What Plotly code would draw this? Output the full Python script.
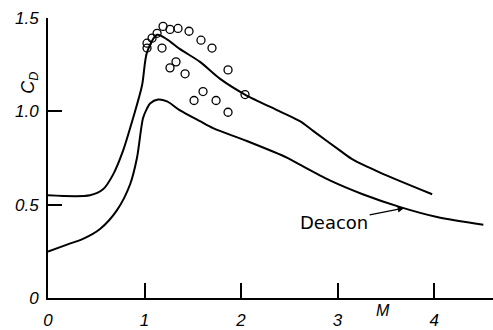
import plotly.graph_objects as go

# Upper curve (experimental fit)
upper_m = [0.0, 0.435, 0.57, 0.674, 0.777, 0.881, 0.974, 1.026, 1.13, 1.233, 1.368, 1.575, 1.78, 2.04, 2.40, 2.61, 2.75, 3.03, 3.16, 3.44, 3.98]
upper_cd = [0.55, 0.55, 0.582, 0.661, 0.788, 0.963, 1.138, 1.317, 1.41, 1.386, 1.333, 1.265, 1.175, 1.09, 1.0, 0.947, 0.894, 0.788, 0.741, 0.672, 0.556]

# Lower curve (Deacon)
deacon_m = [0.0, 0.197, 0.363, 0.539, 0.715, 0.850, 0.922, 0.984, 1.026, 1.057, 1.14, 1.233, 1.368, 1.575, 1.71, 2.06, 2.48, 2.61, 2.92, 3.26, 3.65, 4.03, 4.51]
deacon_cd = [0.249, 0.286, 0.317, 0.370, 0.471, 0.608, 0.751, 0.963, 1.016, 1.042, 1.063, 1.053, 1.005, 0.947, 0.910, 0.841, 0.751, 0.714, 0.630, 0.556, 0.487, 0.434, 0.392]

# Data points (open circles)
pts_m = [1.026, 1.026, 1.078, 1.130, 1.192, 1.264, 1.347, 1.461, 1.585, 1.699, 1.181, 1.326, 1.264, 1.420, 1.865, 2.041, 1.606, 1.513, 1.741, 1.865]
pts_cd = [1.339, 1.365, 1.392, 1.418, 1.455, 1.439, 1.444, 1.429, 1.381, 1.339, 1.339, 1.265, 1.233, 1.201, 1.222, 1.090, 1.106, 1.058, 1.058, 0.995]

x_ticks = [0, 1, 2, 3, 4]
x_labels = ["0", "1", "2", "3", "4"]
y_ticks = [0, 0.5, 1.0, 1.5]
y_labels = ["0", "0.5", "1.0", "1.5"]

fig = go.Figure()
fig.add_trace(go.Scatter(x=upper_m, y=upper_cd, mode="lines", line=dict(color="black", width=2, shape="spline", smoothing=0.8), showlegend=False))
fig.add_trace(go.Scatter(x=deacon_m, y=deacon_cd, mode="lines", line=dict(color="black", width=2, shape="spline", smoothing=0.8), showlegend=False))
fig.add_trace(go.Scatter(x=pts_m, y=pts_cd, mode="markers", cliponaxis=False,
                         marker=dict(symbol="circle-open", size=8, color="black", line=dict(width=1.3)), showlegend=False))

tickfont = dict(family="Liberation Sans", size=17, color="black")

fig.update_layout(
    width=493, height=330,
    margin=dict(l=48, r=0, t=18, b=28),
    paper_bgcolor="white", plot_bgcolor="white",
    xaxis=dict(range=[0, 4.61], tickvals=x_ticks, ticktext=["<i>" + t + "</i>" for t in x_labels],
               ticks="inside", ticklen=15, tickwidth=1.5,
               tickcolor="black", showline=True, linecolor="black", linewidth=2, showgrid=False, zeroline=False,
               tickfont=tickfont, ticklabelstandoff=6),
    yaxis=dict(range=[0, 1.5], tickvals=y_ticks, ticktext=["<i>" + t + "</i>" for t in y_labels],
               ticks="inside", ticklen=14, tickwidth=1.5,
               tickcolor="black", showline=True, linecolor="black", linewidth=2, showgrid=False, zeroline=False,
               tickfont=tickfont, ticklabelstandoff=4),
    annotations=[
        dict(text="<i>C<sub>D</sub></i>", xref="paper", yref="paper", x=-0.072, y=0.817, showarrow=False,
             textangle=-90, font=dict(family="Liberation Sans", size=18, color="black")),
        dict(text="<i>M</i>", xref="x", yref="paper", x=3.47, y=-0.081, showarrow=False,
             font=dict(family="Liberation Sans", size=16, color="black")),
        dict(text="Deacon", x=3.69, y=0.482, xref="x", yref="y", showarrow=True, ax=-70, ay=14,
             arrowhead=2, arrowsize=1, arrowwidth=1.3, arrowcolor="black", standoff=0,
             font=dict(family="DejaVu Sans", size=18, color="black")),
    ],
)

fig.write_html("out.html")
